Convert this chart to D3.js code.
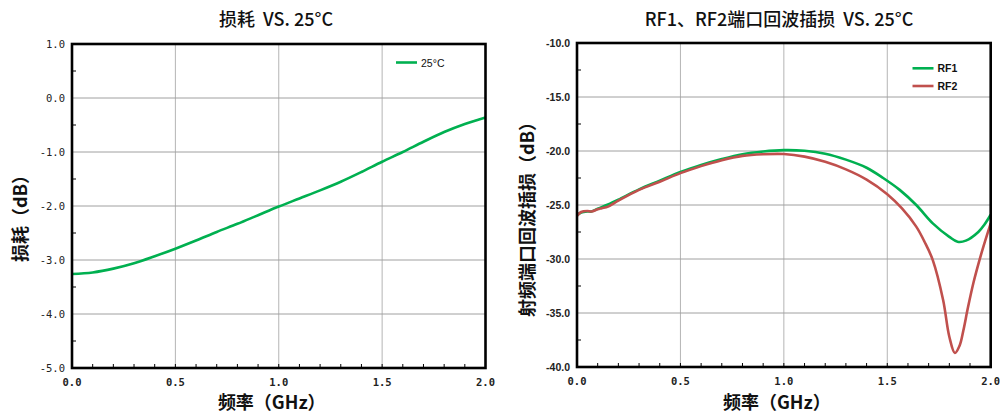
<!DOCTYPE html>
<html><head><meta charset="utf-8">
<script src="https://cdn.jsdelivr.net/npm/d3@7"></script>
<style>
html,body{margin:0;padding:0;background:#fff;}
svg{display:block;}
</style></head>
<body>
<svg id="c" width="1000" height="416"></svg>
<script>
// ---- data ----
const lossFreq = [0,0.1,0.2,0.3,0.4,0.5,0.6,0.7,0.8,0.9,1.0,1.1,1.2,1.3,1.4,1.5,1.6,1.7,1.8,1.9,2.0];
const loss25 = [-3.26,-3.23,-3.16,-3.06,-2.93,-2.79,-2.64,-2.48,-2.33,-2.17,-2.01,-1.86,-1.71,-1.55,-1.37,-1.18,-1.00,-0.81,-0.63,-0.48,-0.36];

const rf1Freq = [0,0.02,0.05,0.07,0.1,0.15,0.2,0.3,0.4,0.5,0.6,0.7,0.8,0.9,1.0,1.1,1.2,1.3,1.4,1.48,1.56,1.64,1.72,1.8,1.84,1.88,1.94,1.97,2.0];
const rf1 = [-25.95,-25.7,-25.6,-25.6,-25.35,-24.95,-24.5,-23.55,-22.75,-21.95,-21.3,-20.75,-20.3,-20.05,-19.92,-19.98,-20.25,-20.8,-21.55,-22.5,-23.6,-25.0,-26.7,-27.95,-28.4,-28.3,-27.5,-26.8,-25.9];

const rf2Freq = [0,0.02,0.05,0.07,0.1,0.12,0.15,0.2,0.3,0.4,0.5,0.6,0.7,0.8,0.9,1.0,1.1,1.2,1.3,1.4,1.5,1.57,1.64,1.68,1.72,1.77,1.80,1.827,1.85,1.868,1.89,1.916,1.94,1.964,2.0];
const rf2 = [-26.0,-25.65,-25.55,-25.6,-25.4,-25.3,-25.15,-24.6,-23.6,-22.85,-22.05,-21.4,-20.85,-20.45,-20.3,-20.28,-20.52,-21.0,-21.7,-22.65,-24.0,-25.3,-27.0,-28.4,-30.1,-33.8,-37.2,-38.7,-38.0,-36.6,-34.5,-32.25,-30.5,-28.9,-26.7];

const xTicks = [0,0.5,1.0,1.5,2.0];
const lossYTicks = [1,0,-1,-2,-3,-4,-5];
const rfYTicks = [-10,-15,-20,-25,-30,-35,-40];

const GREEN = "#00b050", RED = "#c0504d";
const svg = d3.select("#c");

function chart(o){
  const g = svg.append("g");
  const x = d3.scaleLinear().domain([0,2]).range([o.x0,o.x1]);
  const y = d3.scaleLinear().domain(o.ydom).range([o.y1,o.y0]);
  // grid
  g.selectAll(".gx").data(xTicks.slice(1,-1)).enter().append("line")
    .attr("x1",d=>x(d)).attr("x2",d=>x(d)).attr("y1",o.y0).attr("y2",o.y1)
    .attr("stroke","#b4b4b4").attr("stroke-width",1);
  g.selectAll(".gy").data(o.yticks.slice(1,-1)).enter().append("line")
    .attr("x1",o.x0).attr("x2",o.x1).attr("y1",d=>y(d)).attr("y2",d=>y(d))
    .attr("stroke","#a0a0a0").attr("stroke-width",1);
  // minor ticks
  const xm = d3.range(1,20).map(i=>i/10);
  g.selectAll(".mx").data(xm).enter().append("line")
    .attr("x1",d=>x(d)).attr("x2",d=>x(d)).attr("y1",o.y1).attr("y2",o.y1-4)
    .attr("stroke","#000").attr("stroke-width",1);
  const ym = o.yticks.slice(0,-1).map((d,i)=>(d+o.yticks[i+1])/2);
  g.selectAll(".my").data(ym).enter().append("line")
    .attr("x1",o.x0).attr("x2",o.x0+4).attr("y1",d=>y(d)).attr("y2",d=>y(d))
    .attr("stroke","#000").attr("stroke-width",1);
  // series
  const line = d3.line().x(d=>x(d[0])).y(d=>y(d[1])).curve(d3.curveCatmullRom.alpha(0.5));
  o.series.forEach(s=>{
    g.append("path").datum(s.f.map((f,i)=>[f,s.v[i]]))
      .attr("d",line).attr("fill","none").attr("stroke",s.color).attr("stroke-width",2.6)
      .attr("stroke-linejoin","round");
  });
  // frame
  g.append("rect").attr("x",o.x0).attr("y",o.y0).attr("width",o.x1-o.x0).attr("height",o.y1-o.y0)
    .attr("fill","none").attr("stroke","#000").attr("stroke-width",2.6);
  // tick labels
  g.selectAll(".tx").data(xTicks).enter().append("text")
    .attr("x",d=>x(d)).attr("y",o.y1+18).attr("text-anchor","middle")
    .attr("font-family","DejaVu Sans Mono").attr("font-size",10.5).attr("font-weight","bold")
    .attr("fill","#222").text(d=>d3.format(".1f")(d));
  g.selectAll(".ty").data(o.yticks).enter().append("text")
    .attr("x",o.x0-7).attr("y",d=>y(d)+4).attr("text-anchor","end")
    .attr("font-family",o.yfont).attr("font-size",10.5).attr("font-weight",o.yweight)
    .attr("fill","#222").text(d=>d3.format(".1f")(d).replace("−","-"));
  // titles
  g.append("text").attr("x",o.tx).attr("y",26).attr("text-anchor","middle")
    .attr("font-family","Noto Sans CJK SC").attr("font-size",18).attr("font-weight",500)
    .attr("fill","#111").attr("xml:space","preserve").style("white-space","pre").text(o.title);
  g.append("text").attr("x",(o.x0+o.x1)/2-7).attr("y",409).attr("text-anchor","middle")
    .attr("font-family","Noto Sans CJK SC").attr("font-size",18).attr("font-weight","bold")
    .attr("fill","#111").text("频率（GHz）");
  g.append("text").attr("transform",`translate(${o.ytx},${o.yty}) rotate(-90)`)
    .attr("text-anchor","middle").attr("dominant-baseline","central")
    .attr("font-family","Noto Sans CJK SC").attr("font-size",18).attr("font-weight","bold")
    .attr("fill","#111").text(o.ytitle);
  // legend
  o.legend.forEach(l=>{
    g.append("line").attr("x1",l.x).attr("x2",l.x+21).attr("y1",l.y).attr("y2",l.y)
      .attr("stroke",l.color).attr("stroke-width",2.6);
    g.append("text").attr("x",l.x+25).attr("y",l.y+4)
      .attr("font-family","Liberation Sans").attr("font-size",10.5).attr("font-weight",l.bold?"bold":"normal")
      .attr("fill","#111").text(l.label);
  });
}

chart({x0:72,x1:485.5,y0:44,y1:368,ydom:[-5,1],yticks:lossYTicks,
  yfont:"DejaVu Sans Mono",yweight:"normal",
  title:"损耗  VS. 25°C",tx:276,ytitle:"损耗（dB）",ytx:19,yty:214,
  series:[{f:lossFreq,v:loss25,color:GREEN}],
  legend:[{x:396,y:62.5,color:GREEN,label:"25°C"}]});

chart({x0:577,x1:990.7,y0:43,y1:367,ydom:[-40,-10],yticks:rfYTicks,
  yfont:"Liberation Sans",yweight:"bold",
  title:"RF1、RF2端口回波插损  VS. 25°C",tx:779,ytitle:"射频端口回波插损（dB）",ytx:526,yty:215,
  series:[{f:rf1Freq,v:rf1,color:GREEN},{f:rf2Freq,v:rf2,color:RED}],
  legend:[{x:912.5,y:68.3,color:GREEN,label:"RF1",bold:true},{x:912.5,y:86,color:RED,label:"RF2",bold:true}]});
</script>
</body></html>
